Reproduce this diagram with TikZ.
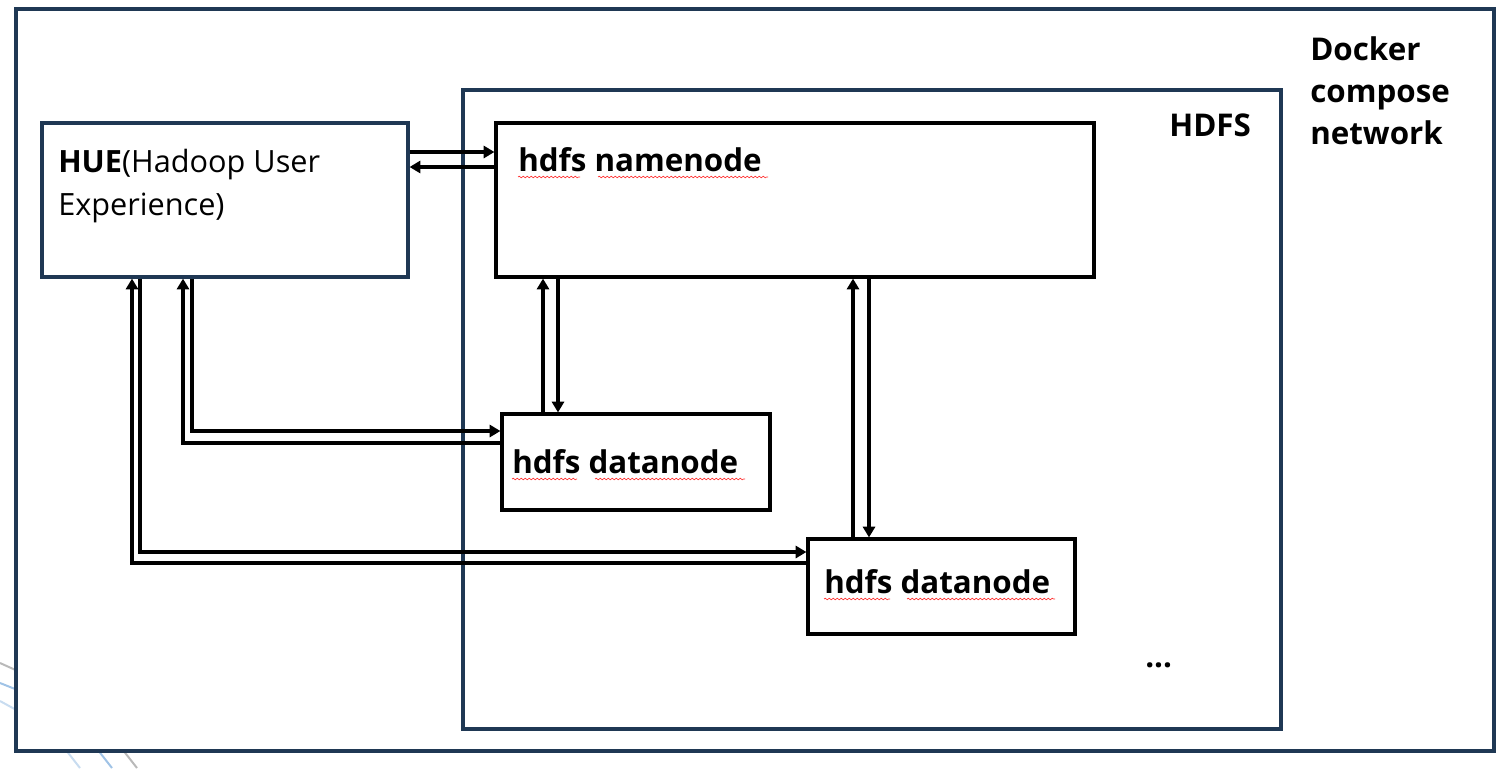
\documentclass[tikz,border=0pt]{standalone}
\usepackage{fontspec}
\setmainfont{Open Sans}
\usetikzlibrary{arrows.meta,decorations.pathmorphing}
\definecolor{frameblue}{RGB}{31,56,84}
\definecolor{bglight}{RGB}{200,220,240}
\definecolor{bgblue}{RGB}{160,195,230}
\definecolor{bggray}{RGB}{185,185,185}
\tikzset{
  frame/.style={draw=frameblue,line width=2.4pt,fill=white,inner sep=0pt},
  huebox/.style={draw=frameblue,line width=2.4pt,fill=white,inner sep=0pt},
  nodebox/.style={draw=black,line width=2.4pt,fill=white,inner sep=0pt},
  lbl/.style={anchor=base west,inner sep=0pt,font=\fontsize{23}{32}\selectfont,align=left},
  blbl/.style={anchor=base west,inner sep=0pt,font=\fontsize{23.5}{31.5}\selectfont\bfseries,align=left},
  arr/.style={line width=2.4pt,-{Triangle[length=8pt,width=9pt]}},
  squig/.style={draw=red!80,line width=0.5pt,decorate,decoration={snake,amplitude=0.6pt,segment length=3pt}}
}
\begin{document}
\begin{tikzpicture}[x=0.75pt,y=-0.75pt]
\useasboundingbox (0,0) rectangle (1505,768);
% background slide decoration
\draw[bggray,line width=1.5pt] (0,663) -- (20,672);
\draw[bgblue,line width=1.5pt] (0,683) -- (20,691);
\draw[bglight,line width=1.5pt] (0,701) -- (20,712);
\draw[bglight,line width=1.5pt] (62,745) -- (80,768);
\draw[bgblue,line width=1.5pt] (94,745) -- (112,768);
\draw[bggray,line width=1.5pt] (119,745) -- (137,768);
% frames
\node[frame,minimum width=1478*0.75pt,minimum height=742*0.75pt] (net) at (755,380) {};
\node[frame,minimum width=818*0.75pt,minimum height=639*0.75pt] (hdfs) at (872,409.5) {};
\node[blbl] (netlbl) at (1310,144) {Docker\\compose\\network};
\node[blbl] (hdfslbl) at (1169,136) {HDFS};
% boxes
\node[huebox,minimum width=366*0.75pt,minimum height=154*0.75pt] (hue) at (225,200) {};
\node[nodebox,minimum width=598*0.75pt,minimum height=154*0.75pt] (nn) at (795,200) {};
\node[nodebox,minimum width=268*0.75pt,minimum height=96*0.75pt] (dn1) at (636,462) {};
\node[nodebox,minimum width=267*0.75pt,minimum height=95*0.75pt] (dn2) at (941.5,586.5) {};
% labels
\node[lbl] (huelbl) at (58,215) {\textbf{HUE}(Hadoop User\\Experience)};
\node[blbl] (nnlbl) at (518,171) {hdfs namenode};
\node[blbl] (dn1lbl) at (512,473) {hdfs datanode};
\node[blbl] (dn2lbl) at (824,593) {hdfs datanode};
\node[blbl] (dots) at (1145,667) {...};
% spell-check squiggles
\draw[squig] (518,177) -- (580,177);
\draw[squig] (598,177) -- (768,177);
\draw[squig] (512,479) -- (577,479);
\draw[squig] (595,479) -- (745,479);
\draw[squig] (824,599) -- (890,599);
\draw[squig] (907,599) -- (1055,599);
% connectors HUE <-> namenode
\draw[arr] (hue.east |- 0,152) -- (nn.west |- 0,152);
\draw[arr] (nn.west |- 0,167) -- (hue.east |- 0,167);
% namenode <-> datanodes
\draw[arr] (dn1.north -| 543,0) -- (nn.south -| 543,0);
\draw[arr] (nn.south -| 558,0) -- (dn1.north -| 558,0);
\draw[arr] (dn2.north -| 853,0) -- (nn.south -| 853,0);
\draw[arr] (nn.south -| 869,0) -- (dn2.north -| 869,0);
% HUE <-> datanodes
\draw[arr] (hue.south -| 192,0) -- (192,431) -- (dn1.west |- 0,431);
\draw[arr] (dn1.west |- 0,443) -- (183,443) -- (hue.south -| 183,0);
\draw[arr] (hue.south -| 140,0) -- (140,552) -- (dn2.west |- 0,552);
\draw[arr] (dn2.west |- 0,563) -- (132,563) -- (hue.south -| 132,0);
\end{tikzpicture}
\end{document}
